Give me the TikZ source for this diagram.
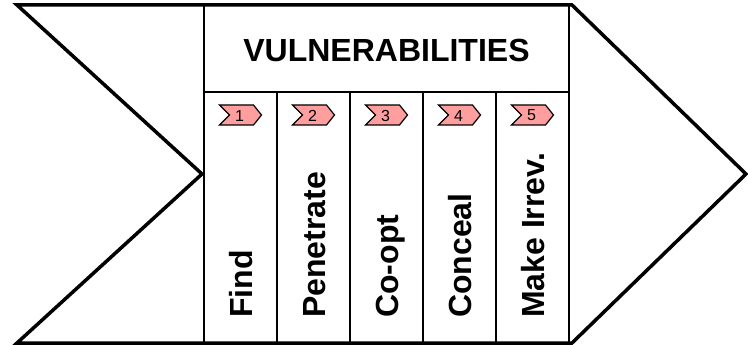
\documentclass[tikz,border=0pt]{standalone}
\usepackage{fontspec}
\setmainfont{Liberation Sans}
\usetikzlibrary{positioning, calc}
\definecolor{tagpink}{HTML}{FF9E9E}
\tikzset{
x=1pt, y=-1pt,
frame/.style={line width=3.5pt, line join=miter, black},
grid/.style={line width=2pt, black},
title/.style={font=\bfseries\fontsize{32}{32}\selectfont, inner sep=0pt},
phase/.style={%
    rotate=90, anchor=west, inner sep=0pt,
    text height=23pt, text depth=0pt,
    font=\bfseries\fontsize{32}{32}\selectfont
},
tagbox/.style={fill=tagpink, draw=black, line width=1.2pt, line join=miter},
tagnum/.style={font=\fontsize{16}{16}\selectfont, inner sep=0pt},
}
\begin{document}
\begin{tikzpicture}
	\useasboundingbox (0,0) rectangle (748,345);
	% outline
	\coordinate (tl) at (17,5);
	\coordinate (notch) at (202,174);
	\coordinate (bl) at (17,343);
	\coordinate (tr) at (572,5);
	\coordinate (tip) at (746,174);
	\coordinate (br) at (572,343);
	\draw[frame] (notch) -- (tl) -- (tr) -- (tip) -- (br) -- (bl) -- cycle;

	% table
	\draw[grid] (204,5) -- (204,343);
	\draw[grid] (569,5) -- (569,343);
	\draw[grid] (204,92) -- (569,92);
	\node[title] (title) at (386.5,50.5) {VULNERABILITIES};

	\foreach \i/\name [evaluate=\i as \cx using 204+73*(\i-0.5)] in
		{1/Find, 2/Penetrate, 3/Co-opt, 4/Conceal, 5/Make Irrev.} {
		\ifnum\i<5 \draw[grid] (204+73*\i,92) -- (204+73*\i,343); \fi
		\draw[tagbox] (\cx-21,105) -- (\cx+13,105) -- (\cx+21,115)
			-- (\cx+13,125) -- (\cx-21,125) -- (\cx-11,115) -- cycle;
		\node[tagnum] (num\i) at (\cx-1,115.5) {\i};
		\node[phase] (phase\i) at (\cx,318) {\name};
	}
\end{tikzpicture}
\end{document}
